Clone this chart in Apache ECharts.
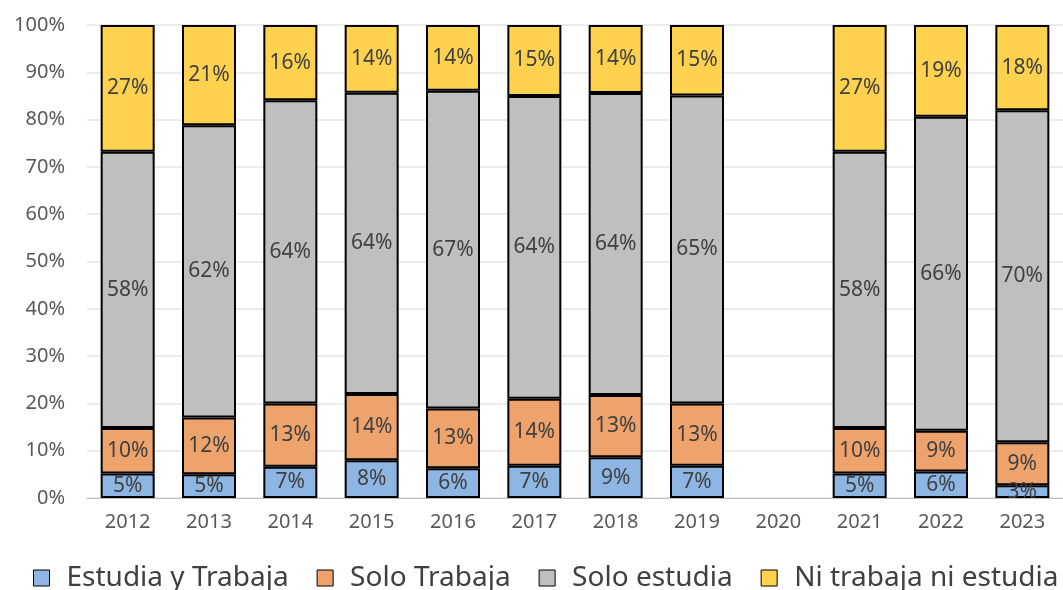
<!DOCTYPE html>
<html>
<head>
<meta charset="utf-8">
<script src="https://cdn.jsdelivr.net/npm/echarts@6/dist/echarts.min.js"></script>
<style>
  html, body { margin: 0; padding: 0; background: #fff; }
  #chart { width: 1063px; height: 590px; }
</style>
</head>
<body>
<div id="chart"></div>
<script>
var years = ['2012', '2013', '2014', '2015', '2016', '2017', '2018', '2019', '2020', '2021', '2022', '2023'];
var estudiaTrabaja = [5.2, 5.0, 6.6, 8.0, 6.3, 6.8, 8.6, 6.8, null, 5.2, 5.6, 2.7];
var soloTrabaja    = [9.6, 12.0, 13.4, 14.0, 12.6, 14.2, 13.2, 13.2, null, 9.6, 8.6, 9.1];
var soloEstudia    = [58.4, 61.8, 64.1, 63.7, 67.2, 64.0, 63.8, 65.1, null, 58.4, 66.4, 70.2];
var niNi           = [26.8, 21.2, 15.9, 14.3, 13.9, 15.0, 14.4, 14.9, null, 26.8, 19.4, 18.0];
var yTicks = [0, 10, 20, 30, 40, 50, 60, 70, 80, 90, 100];

var font = '"Noto Sans", "Open Sans", sans-serif';

function serie(name, data, color) {
    return {
        name: name,
        type: 'bar',
        stack: 'total',
        data: data,
        barWidth: 54,
        itemStyle: { color: color, borderColor: '#000', borderWidth: 2 },
        label: {
            show: true,
            position: 'inside',
            fontFamily: font,
            fontSize: 21,
            color: '#404040',
            formatter: function (p) { return Math.round(p.value) + '%'; }
        }
    };
}

var chart = echarts.init(document.getElementById('chart'));
var option = {
    animation: false,
    grid: { left: 87, right: -1, top: 25, bottom: 92, containLabel: false },
    legend: {
        top: 564,
        left: 33,
        width: 1400,
        padding: 0,
        itemWidth: 16,
        itemHeight: 16,
        itemGap: 28,
        icon: 'rect',
        itemStyle: { borderColor: '#000', borderWidth: 1 },
        textStyle: { fontFamily: font, fontSize: 28, color: '#404040', padding: [0, 0, 0, 12] },
        data: ['Estudia y Trabaja', 'Solo Trabaja', 'Solo estudia', 'Ni trabaja ni estudia']
    },
    xAxis: {
        type: 'category',
        data: years,
        axisTick: { show: false },
        axisLine: { lineStyle: { color: '#bfbfbf', width: 1 } },
        axisLabel: { fontFamily: font, fontSize: 20, color: '#595959', margin: 14 }
    },
    yAxis: {
        type: 'value',
        min: 0,
        max: 100,
        interval: 10,
        axisLine: { show: false },
        axisTick: { show: false },
        splitLine: { lineStyle: { color: '#e6e6e6', width: 1.5 } },
        axisLabel: {
            fontFamily: font, fontSize: 20, color: '#595959', margin: 22,
            formatter: function (v) { return yTicks.indexOf(v) >= 0 ? v + '%' : ''; }
        }
    },
    series: [
        serie('Estudia y Trabaja', estudiaTrabaja, '#8DB6E2'),
        serie('Solo Trabaja', soloTrabaja, '#EFA36C'),
        serie('Solo estudia', soloEstudia, '#BFBFBF'),
        serie('Ni trabaja ni estudia', niNi, '#FED24F')
    ]
};
chart.setOption(option);
</script>
</body>
</html>
